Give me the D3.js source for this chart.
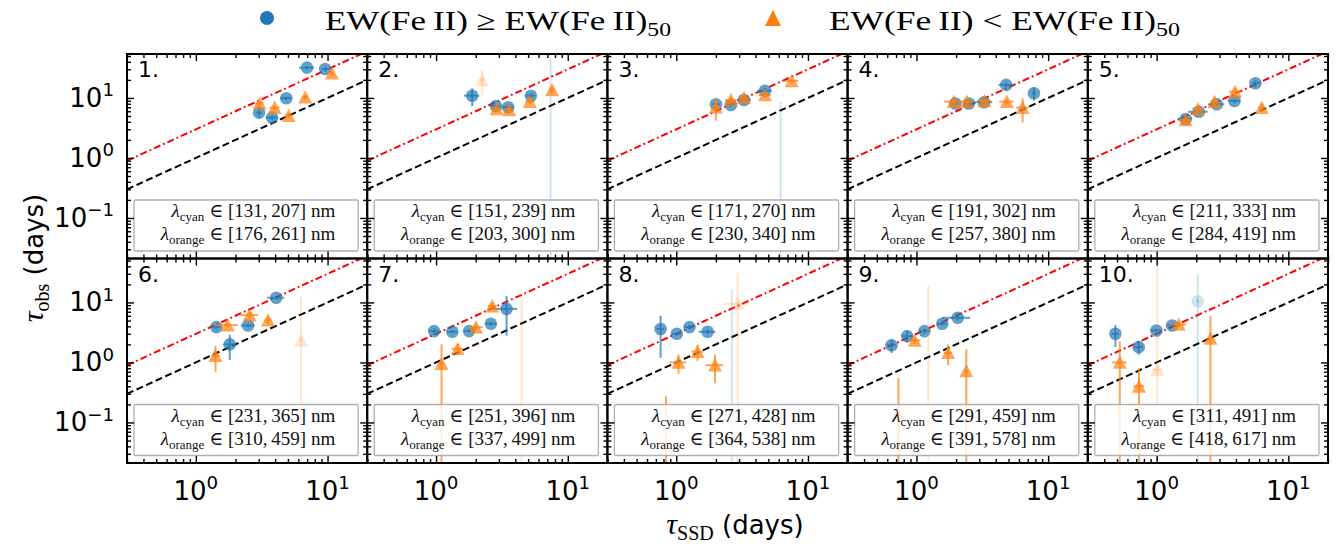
<!DOCTYPE html>
<html><head><meta charset="utf-8">
<script src="https://cdn.jsdelivr.net/npm/d3@7"></script>
<style>body{margin:0;background:#fff} svg{display:block}</style>
</head><body><svg id="c" width="1341" height="551"></svg>
<script>
// ---------- data ----------
const panelLabels = ["1.","2.","3.","4.","5.","6.","7.","8.","9.","10."];
const cyanRanges = [[131,207],[151,239],[171,270],[191,302],[211,333],[231,365],[251,396],[271,428],[291,459],[311,491]];
const orangeRanges = [[176,261],[203,300],[230,340],[257,380],[284,419],[310,459],[337,499],[364,538],[391,578],[418,617]];
const xMajorTicks = [1, 10];
const yMajorTicks = [0.1, 1, 10];
const xTickLabels = [["10","0"],["10","1"]];
const yTickLabels = [["10","\u22121"],["10","0"],["10","1"]];
const legendLabels = ["EW(Fe\u2009II) \u2265 EW(Fe\u2009II)", "EW(Fe\u2009II) < EW(Fe\u2009II)"];
// [panel, tau_SSD, tau_obs, err_SSD, err_obs, faded]
const highEW = [
 [1,6.98,32,0.9,2,0],[1,9.6,30.4,0.6,2,0],[1,3.02,5.69,0.15,1.0,0],[1,3.79,4.7,0.4,0.4,0],[1,4.86,9.9,0.45,0.6,0],
 [2,1.88,10.9,0.25,3.6,0],[2,2.85,7.35,0.25,0.8,0],[2,3.53,7.0,0.35,0.6,0],[2,5.25,10.9,0.45,1.0,0],[2,7.4,0.01,0.1,46,1],
 [3,2.0,7.85,0.15,1.0,0],[3,2.6,7.64,0.2,0.6,0],[3,3.27,9.26,0.4,0.7,0],[3,4.72,13.2,0.6,1.0,0],[3,6.2,0.01,0.1,8.7,1],
 [4,1.97,8.1,0.1,0.6,0],[4,2.5,8.1,0.2,0.5,0],[4,3.26,8.5,0.5,0.5,0],[4,4.8,16.5,0.6,1.5,0],[4,7.8,12.0,0.3,3.0,0],
 [5,1.66,4.47,0.2,0.4,0],[5,2.09,5.9,0.35,0.5,0],[5,2.86,7.85,0.4,0.6,0],[5,3.9,8.9,0.4,0.6,0],[5,5.62,17.6,0.3,2.5,0],
 [6,1.43,3.88,0.1,0.3,0],[6,1.81,2.0,0.2,0.9,0],[6,2.49,4.14,0.3,0.3,0],[6,4.08,12.0,0.6,0.8,0],
 [7,0.966,3.33,0.08,0.4,0],[7,1.33,3.25,0.12,0.2,0],[7,1.78,3.33,0.15,0.2,0],[7,2.61,4.41,0.25,0.3,0],[7,3.43,7.8,0.7,5.0,0],
 [8,0.76,3.6,0.05,2.4,0],[8,1.01,3.0,0.08,0.2,0],[8,1.26,3.88,0.1,0.3,0],[8,1.73,3.25,0.25,0.3,0],[8,2.64,0.01,0.05,16.5,1],
 [9,0.647,1.94,0.05,0.5,0],[9,0.85,2.75,0.08,0.6,0],[9,1.15,3.33,0.1,0.3,0],[9,1.57,4.41,0.12,0.3,0],[9,2.06,5.55,0.5,0.5,0],
 [10,0.486,3.0,0.03,1.2,0],[10,0.731,1.8,0.06,0.45,0],[10,0.995,3.41,0.1,0.25,0],[10,1.31,4.14,0.12,0.3,0],[10,2.05,10.5,0.05,18.8,1]
];
const lowEW = [
 [1,3.05,8.1,0.2,1.0,0],[1,3.97,6.9,0.35,0.7,0],[1,5.07,5.07,0.3,0.5,0],[1,6.77,10.3,0.3,1.0,0],[1,10.8,25.8,0.5,2,0],
 [2,2.24,20,0.1,9,1],[2,2.88,6.56,0.3,0.5,0],[2,3.59,6.3,0.3,0.5,0],[2,5.15,8.7,0.4,0.8,0],[2,7.6,13.6,0.4,1.5,0],
 [3,2.0,7.0,0.1,2.8,0],[3,2.6,9.26,0.25,1.0,0],[3,3.27,10.1,0.3,1.5,0],[3,4.72,11.2,0.5,1.0,0],[3,7.53,19.2,0.9,1.2,0],
 [4,1.92,8.7,0.3,0.7,0],[4,2.42,8.7,0.25,0.7,0],[4,3.29,8.9,0.4,0.7,0],[4,4.86,8.7,0.6,0.8,0],[4,6.4,6.9,0.7,3.0,0],
 [5,1.66,4.3,0.2,0.6,0],[5,2.06,6.56,0.2,0.8,0],[5,2.75,8.7,0.2,1.0,0],[5,3.94,12.7,0.4,2.0,0],[5,6.28,6.9,0.4,1.0,0],
 [6,1.41,1.3,0.1,0.6,0],[6,1.74,4.19,0.35,0.4,0],[6,2.56,6.15,0.4,0.8,0],[6,3.53,5.08,0.2,0.7,0],[6,6.3,2.33,0.1,10.4,1],
 [7,1.1,0.95,0.05,1.05,0],[7,1.46,1.69,0.15,0.35,0],[7,2.01,3.88,0.25,0.4,0],[7,2.67,8.69,0.2,1.2,0],[7,4.46,0.01,0.05,12,1],
 [8,1.04,1.0,0.15,0.35,0],[8,1.45,1.51,0.15,0.45,0],[8,1.97,0.9,0.3,0.45,0],[8,2.93,9.5,0.65,21.5,1],[8,0.836,0.01,0.03,0.264,0],
 [9,0.97,2.33,0.1,0.3,0],[9,1.74,1.45,0.12,0.55,0],[9,2.39,0.72,0.1,0.95,0],[9,0.73,0.136,0.05,0.42,0],[9,1.23,0.01,0.05,18.7,1],
 [10,0.525,1.0,0.065,1.27,0],[10,0.734,0.4,0.07,0.415,0],[10,1.01,0.76,0.08,60,1],[10,1.47,4.3,0.2,0.4,0],[10,2.56,2.51,0.1,3.4,0]
];
const lineFactors = [3, 1]; // tau_obs = f * tau_SSD

// ---------- layout ----------
const BLUE = "#1f77b4", ORANGE = "#ff7f0e";
const L = 127, R = 1328, T = 54, B = 463;
const pw = (R - L) / 5, ph = (B - T) / 2;
const xDom = [0.3, 20], yDom = [0.0211, 54];
const SERIF = "'Liberation Serif', 'DejaVu Serif', serif";
const SANS = "'DejaVu Sans', sans-serif";

const svg = d3.select("#c");
const defs = svg.append("defs");

function supLabel(sel, base, sup, size) {
  sel.append("tspan").text(base);
  sel.append("tspan").attr("font-size", size * 0.7).attr("dy", -size * 0.42).text(sup);
}

for (let p = 0; p < 10; p++) {
  const col = p % 5, row = Math.floor(p / 5);
  const x0 = L + col * pw, y0 = T + row * ph;
  const x = d3.scaleLog().domain(xDom).range([x0, x0 + pw]);
  const y = d3.scaleLog().domain(yDom).range([y0 + ph, y0]);
  const g = svg.append("g");
  const cid = "clip" + p;
  defs.append("clipPath").attr("id", cid).append("rect")
    .attr("x", x0).attr("y", y0).attr("width", pw).attr("height", ph);
  const pg = g.append("g").attr("clip-path", `url(#${cid})`);

  // reference lines
  const xs = [0.3, 0.5, 1, 2, 5, 10, 20];
  const line = d3.line();
  pg.append("path").attr("d", line(xs.map(v => [x(v), y(v * lineFactors[0])])))
    .attr("fill", "none").attr("stroke", "red").attr("stroke-width", 2).attr("stroke-dasharray", "7,3,1.8,3");
  pg.append("path").attr("d", line(xs.map(v => [x(v), y(v * lineFactors[1])])))
    .attr("fill", "none").attr("stroke", "black").attr("stroke-width", 2).attr("stroke-dasharray", "7,3.5");

  // data
  const drawSet = (data, color, shape) => {
    data.filter(d => d[0] === p + 1).forEach(d => {
      const [, xv, yv, xe, ye, faded] = d;
      const a = faded ? 0.2 : 0.7;
      const px = x(xv), py = y(yv);
      const xl = xv - xe > 0 ? x(xv - xe) : x0 - 20;
      const yl = yv - ye > 0 ? y(yv - ye) : y0 + ph + 20;
      pg.append("line").attr("x1", xl).attr("x2", x(xv + xe)).attr("y1", py).attr("y2", py)
        .attr("stroke", color).attr("stroke-width", 2).attr("opacity", a);
      pg.append("line").attr("x1", px).attr("x2", px).attr("y1", yl).attr("y2", y(yv + ye))
        .attr("stroke", color).attr("stroke-width", 2).attr("opacity", a);
      if (shape === "o") {
        pg.append("circle").attr("cx", px).attr("cy", py).attr("r", 6.3)
          .attr("fill", color).attr("opacity", a);
      } else {
        const s = 7;
        pg.append("path").attr("d", `M${px},${py - s}L${px - s},${py + s * 0.9}L${px + s},${py + s * 0.9}Z`)
          .attr("fill", color).attr("opacity", a);
      }
    });
  };
  drawSet(highEW, BLUE, "o");
  drawSet(lowEW, ORANGE, "^");

  // text box
  const bx = x0 + 7, bw = pw - 16, by = y0 + 146, bh = 51;
  g.append("rect").attr("x", bx).attr("y", by).attr("width", bw).attr("height", bh)
    .attr("fill", "white").attr("fill-opacity", 0.8).attr("stroke", "#b0b0b0").attr("stroke-width", 1.3).attr("rx", 1.5);
  const addLine = (yy, sub, rng) => {
    const t = g.append("text").attr("x", bx + bw - 23).attr("y", yy).attr("text-anchor", "end")
      .attr("font-family", SERIF).attr("font-size", 19).attr("fill", "#111");
    t.append("tspan").attr("font-style", "italic").text("\u03bb");
    t.append("tspan").attr("font-size", 13).attr("dy", 4).text(sub);
    t.append("tspan").attr("dy", -4).text(` \u2208 [${rng[0]},\u2009${rng[1]}] nm`);
  };
  addLine(by + 17, "cyan", cyanRanges[p]);
  addLine(by + 40, "orange", orangeRanges[p]);

  // panel label
  g.append("text").attr("x", x0 + 11).attr("y", y0 + 23).attr("font-family", SANS)
    .attr("font-size", 22).text(panelLabels[p]);

  // axes (inward ticks)
  const xMinor = x.ticks().filter(v => !xMajorTicks.includes(v));
  const yMinor = y.ticks().filter(v => !yMajorTicks.some(m => Math.abs(m - v) < 1e-9));
  const axes = [
    [d3.axisBottom(x), `translate(0,${y0 + ph})`, xMajorTicks, xMinor],
    [d3.axisTop(x), `translate(0,${y0})`, xMajorTicks, xMinor],
    [d3.axisLeft(y), `translate(${x0},0)`, yMajorTicks, yMinor],
    [d3.axisRight(y), `translate(${x0 + pw},0)`, yMajorTicks, yMinor]
  ];
  axes.forEach(([ax, tr, maj, mn]) => {
    [[maj, 7], [mn, 4]].forEach(([vals, len]) => {
      const a = g.append("g").attr("transform", tr)
        .call(ax.tickValues(vals).tickSize(-len).tickSizeOuter(0).tickFormat(""));
      a.select(".domain").remove();
      a.selectAll("line").attr("stroke", "black").attr("stroke-width", 1.4);
    });
  });
  g.append("rect").attr("x", x0).attr("y", y0).attr("width", pw).attr("height", ph)
    .attr("fill", "none").attr("stroke", "black").attr("stroke-width", 2);

  // tick labels
  if (row === 1) {
    xMajorTicks.forEach((v, i) => {
      const t = g.append("text").attr("x", x(v)).attr("y", y0 + ph + 37).attr("text-anchor", "middle")
        .attr("font-family", SANS).attr("font-size", 26);
      supLabel(t, xTickLabels[i][0], xTickLabels[i][1], 26);
    });
  }
  if (col === 0) {
    yMajorTicks.forEach((v, i) => {
      const t = g.append("text").attr("x", x0 - 13).attr("y", y(v) + 9).attr("text-anchor", "end")
        .attr("font-family", SANS).attr("font-size", 26);
      supLabel(t, yTickLabels[i][0], yTickLabels[i][1], 26);
    });
  }
}

// axis labels
const xl = svg.append("text").attr("x", 735).attr("y", 534).attr("text-anchor", "middle").attr("font-size", 26);
xl.append("tspan").attr("font-family", SERIF).attr("font-style", "italic").attr("font-size", 30).text("\u03c4");
xl.append("tspan").attr("font-family", SERIF).attr("font-size", 20).attr("dy", 6).text("SSD");
xl.append("tspan").attr("font-family", SANS).attr("dy", -6).text(" (days)");

const yl = svg.append("text").attr("transform", "translate(43,258) rotate(-90)").attr("text-anchor", "middle").attr("font-size", 26);
yl.append("tspan").attr("font-family", SERIF).attr("font-style", "italic").attr("font-size", 30).text("\u03c4");
yl.append("tspan").attr("font-family", SERIF).attr("font-size", 20).attr("dy", 6).text("obs");
yl.append("tspan").attr("font-family", SANS).attr("dy", -6).text(" (days)");

// legend
const lg = svg.append("g");
lg.append("circle").attr("cx", 267).attr("cy", 18).attr("r", 7).attr("fill", BLUE);
lg.append("path").attr("d", "M773,10L765,26L781,26Z").attr("fill", ORANGE);
[[325, 346], [829, 351]].forEach(([lx, w], i) => {
  const t = lg.append("text").attr("x", lx).attr("y", 30).attr("font-family", SERIF).attr("font-size", 28)
    .attr("textLength", w).attr("lengthAdjust", "spacingAndGlyphs");
  t.append("tspan").text(legendLabels[i]);
  t.append("tspan").attr("font-size", 19).attr("dy", 6).text("50");
});
</script></body></html>
